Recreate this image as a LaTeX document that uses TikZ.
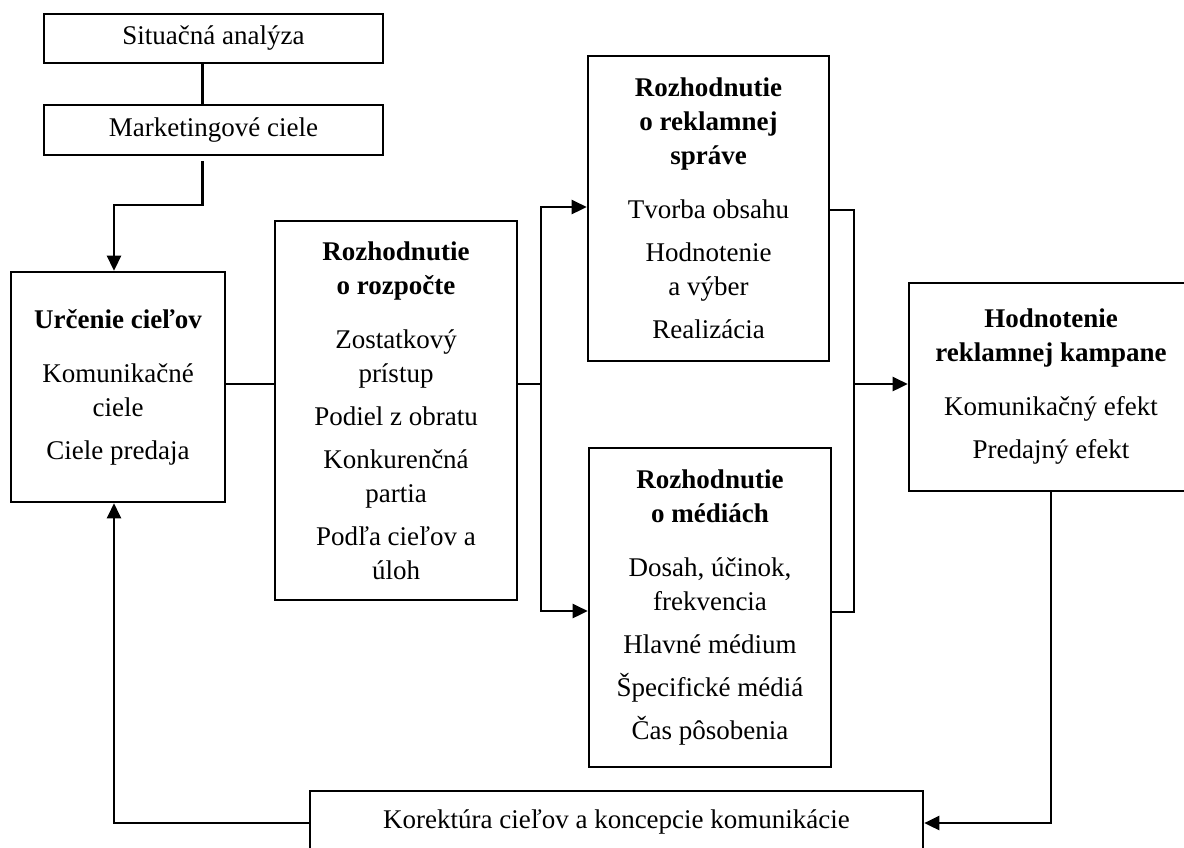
\documentclass[tikz,border=0pt]{standalone}
\usepackage{fontspec}
\setmainfont{Liberation Serif}
\usetikzlibrary{arrows.meta}

\begin{document}
\begin{tikzpicture}[x=0.5pt,y=-0.5pt,
  box/.style={draw, line width=1.3pt, rectangle, inner sep=0pt, align=center,
              font=\fontsize{13.5}{17}\selectfont},
  link/.style={line width=1.3pt},
  arr/.style={link, -{Triangle[length=7.5pt,width=7pt]}},
]
\useasboundingbox (0,0) rectangle (1184,847);

% boxes
\node[box, minimum width=169.5pt, minimum height=24.5pt] (sit) at (213.5,38.5) {Situačná analýza};
\node[box, minimum width=169.5pt, minimum height=25pt] (mkt) at (213.5,130) {Marketingové ciele};
\node[box, minimum width=107pt, minimum height=115pt] (urc) at (118,387)
  {\textbf{Určenie cieľov}\\[10pt]Komunikačné\\ciele\\[4.5pt]Ciele predaja};
\node[box, minimum width=121pt, minimum height=189.5pt] (roz) at (396,410.5)
  {\textbf{Rozhodnutie}\\\textbf{o rozpočte}\\[10pt]Zostatkový\\prístup\\[4.5pt]Podiel z obratu\\[4.5pt]Konkurenčná\\partia\\[4.5pt]Podľa cieľov a\\úloh};
\node[box, minimum width=120.5pt, minimum height=152.5pt] (spr) at (708.5,208.5)
  {\textbf{Rozhodnutie}\\\textbf{o reklamnej}\\\textbf{správe}\\[10pt]Tvorba obsahu\\[4.5pt]Hodnotenie\\a výber\\[4.5pt]Realizácia};
\node[box, minimum width=121pt, minimum height=159.5pt] (med) at (710,607.5)
  {\textbf{Rozhodnutie}\\\textbf{o médiách}\\[10pt]Dosah, účinok,\\frekvencia\\[4.5pt]Hlavné médium\\[4.5pt]Špecifické médiá\\[4.5pt]Čas pôsobenia};
\node[box, minimum width=142pt, minimum height=104pt] (hod) at (1051,387)
  {\textbf{Hodnotenie}\\\textbf{reklamnej kampane}\\[10pt]Komunikačný efekt\\[4.5pt]Predajný efekt};
\node[box, minimum width=306.5pt, minimum height=31pt] (kor) at (616.5,822)
  {Korektúra cieľov a koncepcie komunikácie};

% routing points
\coordinate (j1) at (202.5,0);
\coordinate (m1) at (202.5,205);
\coordinate (m2) at (114,205);
\coordinate (h1) at (0,384);
\coordinate (b) at (541,384);
\coordinate (sIn) at (0,207);
\coordinate (mIn) at (0,611);
\coordinate (sOut) at (0,210);
\coordinate (mOut) at (0,612);
\coordinate (c) at (854,384);
\coordinate (f) at (0,823);

% connectors
\draw[link] (sit.south -| j1) -- (mkt.north -| j1);
\draw[arr, shorten <=2.5pt] (mkt.south -| j1) -- (m1) -- (m2) -- (urc.north -| m2);
\draw[link] (urc.east |- h1) -- (roz.west |- h1);
\draw[link] (roz.east |- h1) -- (b);
\draw[arr] (b) |- (spr.west |- sIn);
\draw[arr] (b) |- (med.west |- mIn);
\draw[link] (spr.east |- sOut) -| (c);
\draw[link] (med.east |- mOut) -| (c);
\draw[arr] (c) -- (hod.west |- c);
\draw[arr] (hod.south) |- (kor.east |- f);
\draw[arr] (kor.west |- f) -| (urc.south -| m2);
\end{tikzpicture}
\end{document}
